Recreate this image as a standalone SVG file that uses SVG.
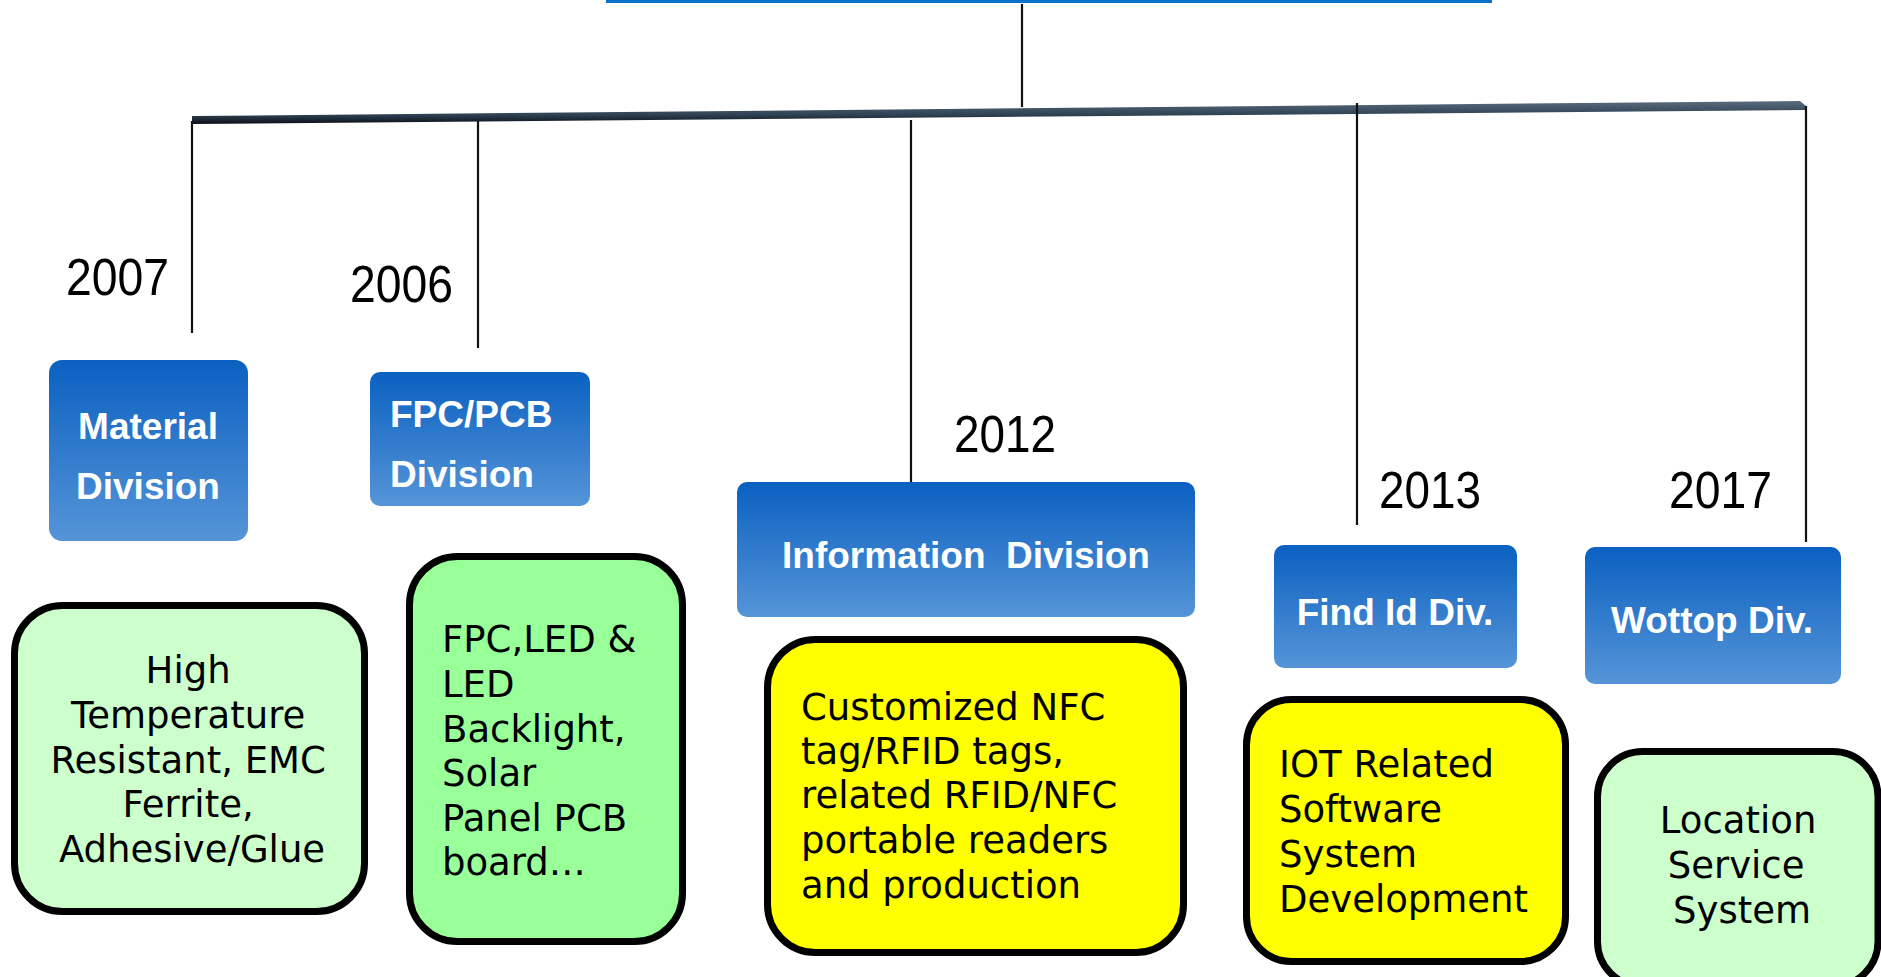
<svg xmlns="http://www.w3.org/2000/svg" width="1881" height="977" viewBox="0 0 1881 977">
<defs>
<linearGradient id="blue" x1="0" y1="0" x2="0" y2="1">
<stop offset="0" stop-color="#0b60c1"/>
<stop offset="1" stop-color="#5595d7"/>
</linearGradient>
<linearGradient id="bar" x1="0" y1="0" x2="0" y2="1">
<stop offset="0" stop-color="#5a6c7e"/>
<stop offset="0.6" stop-color="#2f4254"/>
<stop offset="1" stop-color="#0a0f14"/>
</linearGradient>
<style>
.div{fill:url(#blue)}
.dl{font-family:"Liberation Sans",Arial,sans-serif;font-weight:bold;font-size:37px;fill:#ffffff}
.yr{font-family:"Liberation Sans",Arial,sans-serif;font-size:51px;fill:#000000}
.desc{stroke:#000000;stroke-width:7}
.dt{font-family:"DejaVu Sans",Verdana,sans-serif;font-size:37px;fill:#000000}
.vl{stroke:#111111;stroke-width:2.2;fill:none}
</style>
</defs>
<rect x="0" y="0" width="1881" height="977" fill="#ffffff"/>
<g id="connectors">
<rect x="606" y="0" width="886" height="3" fill="#0a72c8"/>
<line class="vl" x1="1022" y1="4" x2="1022" y2="107"/>
<polygon points="192,116 1800,101 1806,106 1806,110 192,124" fill="url(#bar)"/>
<line class="vl" x1="192" y1="121" x2="192" y2="333"/>
<line class="vl" x1="478" y1="121" x2="478" y2="348"/>
<line class="vl" x1="911" y1="120" x2="911" y2="482"/>
<line class="vl" x1="1357" y1="103" x2="1357" y2="525"/>
<line class="vl" x1="1806" y1="106" x2="1806" y2="542"/>
</g>
<g id="years">
<text class="yr" x="66" y="295" textLength="103" lengthAdjust="spacingAndGlyphs">2007</text>
<text class="yr" x="350" y="302" textLength="103" lengthAdjust="spacingAndGlyphs">2006</text>
<text class="yr" x="954" y="452" textLength="102" lengthAdjust="spacingAndGlyphs">2012</text>
<text class="yr" x="1379" y="508" textLength="102" lengthAdjust="spacingAndGlyphs">2013</text>
<text class="yr" x="1669" y="508" textLength="103" lengthAdjust="spacingAndGlyphs">2017</text>
</g>
<g id="material-division">
<rect class="div" x="49" y="360" width="199" height="181" rx="13"/>
<text class="dl" x="148" y="439" text-anchor="middle">Material</text>
<text class="dl" x="148" y="499" text-anchor="middle">Division</text>
</g>
<g id="fpc-division">
<rect class="div" x="370" y="372" width="220" height="134" rx="10"/>
<text class="dl" x="390" y="427">FPC/PCB</text>
<text class="dl" x="390" y="487">Division</text>
</g>
<g id="information-division">
<rect class="div" x="737" y="482" width="458" height="135" rx="10"/>
<text class="dl" x="966" y="568" text-anchor="middle" xml:space="preserve">Information  Division</text>
</g>
<g id="findid-division">
<rect class="div" x="1274" y="545" width="243" height="123" rx="10"/>
<text class="dl" x="1395" y="625" text-anchor="middle">Find Id Div.</text>
</g>
<g id="wottop-division">
<rect class="div" x="1585" y="547" width="256" height="137" rx="10"/>
<text class="dl" x="1712" y="633" text-anchor="middle">Wottop Div.</text>
</g>
<g id="material-desc">
<rect class="desc" x="14.5" y="605.5" width="350" height="306" rx="48" fill="#ccffcc"/>
<text class="dt" text-anchor="middle">
<tspan x="194" y="683">High</tspan>
<tspan x="194" y="728">Temperature</tspan>
<tspan x="194" y="773">Resistant, EMC</tspan>
<tspan x="194" y="817">Ferrite,</tspan>
<tspan x="192" y="862">Adhesive/Glue</tspan>
</text>
</g>
<g id="fpc-desc">
<rect class="desc" x="409.5" y="556.5" width="273" height="385" rx="48" fill="#99ff99"/>
<text class="dt">
<tspan x="442" y="652">FPC,LED &amp;</tspan>
<tspan x="442" y="697">LED</tspan>
<tspan x="442" y="742">Backlight,</tspan>
<tspan x="442" y="786">Solar</tspan>
<tspan x="442" y="831">Panel PCB</tspan>
<tspan x="442" y="875">board…</tspan>
</text>
</g>
<g id="information-desc">
<rect class="desc" x="767.5" y="639.5" width="416" height="313" rx="48" fill="#ffff00"/>
<text class="dt">
<tspan x="801" y="720">Customized NFC</tspan>
<tspan x="801" y="764">tag/RFID tags,</tspan>
<tspan x="801" y="808">related RFID/NFC</tspan>
<tspan x="801" y="853">portable readers</tspan>
<tspan x="801" y="898">and production</tspan>
</text>
</g>
<g id="findid-desc">
<rect class="desc" x="1246.5" y="699.5" width="319" height="262" rx="45" fill="#ffff00"/>
<text class="dt">
<tspan x="1279" y="777">IOT Related</tspan>
<tspan x="1279" y="822">Software</tspan>
<tspan x="1279" y="867">System</tspan>
<tspan x="1279" y="912">Development</tspan>
</text>
</g>
<g id="wottop-desc">
<rect class="desc" x="1597.5" y="751.5" width="280.5" height="235" rx="45" fill="#ccffcc"/>
<text class="dt" text-anchor="middle">
<tspan x="1744" y="833">Location</tspan>
<tspan x="1742" y="878">Service</tspan>
<tspan x="1742" y="923">System</tspan>
</text>
</g>
</svg>
